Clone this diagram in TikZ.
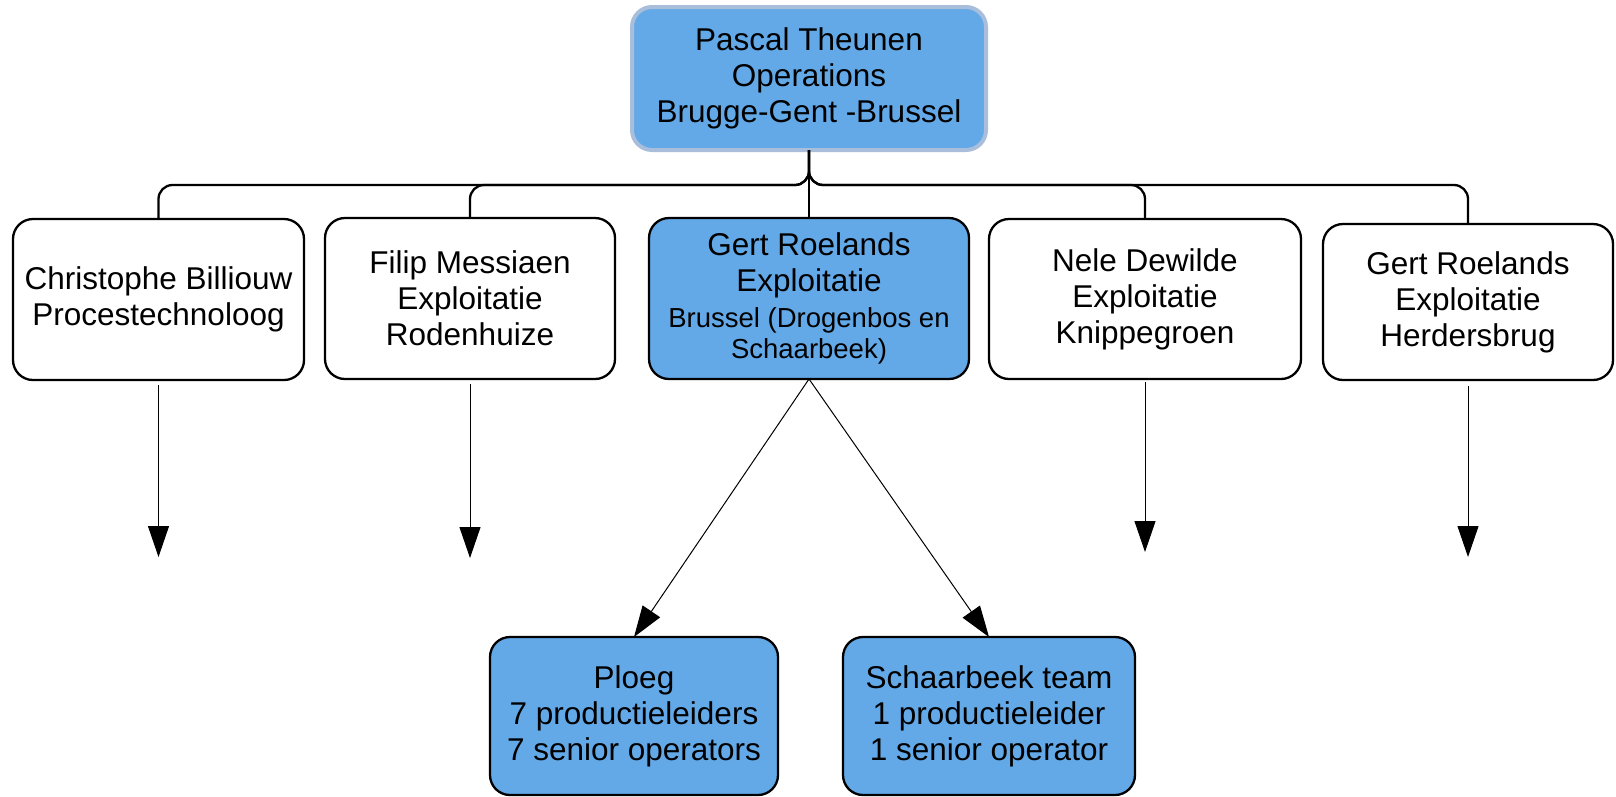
\documentclass[tikz,border=0pt]{standalone}
\usepackage{fontspec}
\setmainfont{Liberation Sans}
\usetikzlibrary{arrows.meta}
\definecolor{boxblue}{RGB}{99,169,232}
\definecolor{softedge}{RGB}{168,190,219}
\tikzset{
  orgbox/.style={draw=black, line width=2.3pt, rounded corners=20pt, inner sep=0pt, outer sep=0pt,
    align=center, font=\fontsize{31.5}{36}\selectfont, fill=white},
  bluebox/.style={orgbox, fill=boxblue},
  topbox/.style={orgbox, fill=boxblue, draw=softedge, line width=4pt},
  conn/.style={draw=black, line width=2.3pt, rounded corners=14pt},
  arr/.style={draw=black, line width=1pt, -{Triangle[length=31pt,width=21pt]}}
}
\newcommand{\smallline}[1]{{\fontsize{27.5}{30}\selectfont #1}}
\begin{document}
\begin{tikzpicture}[x=1pt,y=-1pt]
\useasboundingbox (0,0) rectangle (1616,796);

\node[topbox, minimum width=354pt, minimum height=143pt] (top) at (809,78.5)
  {Pascal Theunen\\Operations\\Brugge-Gent -Brussel};

\node[orgbox, minimum width=291pt, minimum height=161pt] (c1) at (158.5,299.5)
  {Christophe Billiouw\\Procestechnoloog};
\node[orgbox, minimum width=290pt, minimum height=161pt] (c2) at (470,298.5)
  {Filip Messiaen\\Exploitatie\\Rodenhuize};
\node[bluebox, minimum width=320pt, minimum height=161pt] (c3) at (809,298.5)
  {Gert Roelands\\Exploitatie\\\smallline{Brussel (Drogenbos en}\\[-5pt]\smallline{Schaarbeek)}};
\node[orgbox, minimum width=312pt, minimum height=160pt] (c4) at (1145,299)
  {Nele Dewilde\\Exploitatie\\Knippegroen};
\node[orgbox, minimum width=290pt, minimum height=156pt] (c5) at (1468,302)
  {Gert Roelands\\Exploitatie\\Herdersbrug};

\node[bluebox, minimum width=288pt, minimum height=158pt] (ploeg) at (634,716)
  {Ploeg\\7 productieleiders\\7 senior operators};
\node[bluebox, minimum width=292pt, minimum height=158pt] (team) at (989,716)
  {Schaarbeek team\\1 productieleider\\1 senior operator};

% bus connectors
\coordinate (bus) at (809,185);
\draw[conn] (top.south) -- (bus) -| (c1.north);
\draw[conn] (top.south) -- (bus) -| (c2.north);
\draw[conn] (top.south) -- (c3.north);
\draw[conn] (top.south) -- (bus) -| (c4.north);
\draw[conn] (top.south) -- (bus) -| (c5.north);

% open arrows
\coordinate (e1) at (158.5,557);
\coordinate (e2) at (470,558);
\coordinate (e4) at (1145,552);
\coordinate (e5) at (1468,557);
\draw[arr] ([yshift=-5pt]c1.south) -- (e1);
\draw[arr] ([yshift=-5pt]c2.south) -- (e2);
\draw[arr] ([yshift=-3pt]c4.south) -- (e4);
\draw[arr] ([yshift=-6pt]c5.south) -- (e5);

% diagonal arrows
\draw[arr] (c3.south) -- (ploeg.north);
\draw[arr] (c3.south) -- (team.north);
\end{tikzpicture}
\end{document}
